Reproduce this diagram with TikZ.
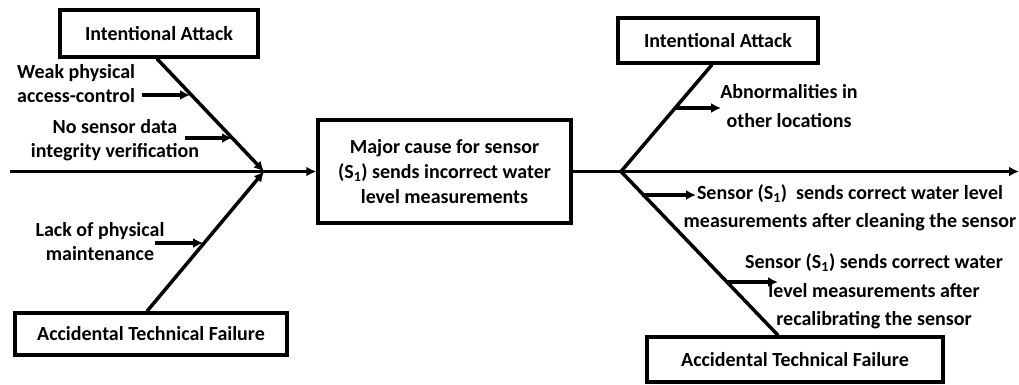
\documentclass[tikz,border=0pt]{standalone}
\usepackage{fontspec}
\setmainfont{Carlito}
\usetikzlibrary{arrows.meta}
\begin{document}
\begin{tikzpicture}[x=1pt,y=-1pt,
  txt/.style={font=\bfseries\fontsize{20}{24}\selectfont, inner sep=0pt, align=center},
  rtxt/.style={font=\bfseries\fontsize{20}{28.5}\selectfont, inner sep=0pt, align=center},
  box/.style={draw, line width=3.5pt, inner sep=0pt, align=center, font=\bfseries\fontsize{20}{25}\selectfont},
  bone/.style={line width=3.5pt},
  arr/.style={line width=3.5pt, -{Latex[length=10pt,width=10pt]}}]
\useasboundingbox (0,0) rectangle (1019,384);

% boxes
\node[box, minimum width=198pt, minimum height=47pt] (ia1) at (159,33.5) {Intentional Attack};
\node[box, minimum width=272pt, minimum height=42pt] (atf1) at (151,334) {Accidental Technical Failure};
\node[box, minimum width=253pt, minimum height=103pt] (main) at (444.5,171.5)
  {Major cause for sensor\\(S\textsubscript{1}) sends incorrect water\\level measurements};
\node[box, minimum width=200pt, minimum height=45pt] (ia2) at (718,40.5) {Intentional Attack};
\node[box, minimum width=296pt, minimum height=45pt] (atf2) at (795,359.5) {Accidental Technical Failure};

% spine coordinates
\coordinate (sL) at (10,171.5);
\coordinate (J1) at (264,171.5);
\coordinate (F) at (621,171.5);
\coordinate (sR) at (1019,171.5);

% spine
\draw[arr] (sL) -- (main.west);
\draw[bone] (main.east) -- (F);
\draw[arr] (F) -- (sR);

% left bones
\draw[arr] ([xshift=-2pt]ia1.south) -- (J1);
\draw[arr] ([xshift=-4pt]atf1.north) -- (J1);

% right bones
\draw[bone] ([xshift=-6pt]ia2.south) -- (F);
\draw[bone] (F) -- ([xshift=-17pt]atf2.north);

% left labels and sub arrows
\node[txt, align=left, anchor=west] (wpac) at (17,84) {Weak physical\\access-control};
\coordinate (wpacT) at (142,95);
\coordinate (wpacH) at (190,95);
\draw[arr] (wpacT) -- (wpacH);

\node[txt] (nsd) at (115,140) {No sensor data\\integrity verification};
\coordinate (nsdT) at (185,138);
\coordinate (nsdH) at (232,138);
\draw[arr] (nsdT) -- (nsdH);

\node[txt] (lpm) at (100,241.5) {Lack of physical\\maintenance};
\coordinate (lpmT) at (155,243);
\coordinate (lpmH) at (203,243);
\draw[arr] (lpmT) -- (lpmH);

% right labels and sub arrows
\node[rtxt] (abn) at (789,106) {Abnormalities in\\other locations};
\coordinate (abnT) at (675,108);
\coordinate (abnH) at (721,108);
\draw[arr] (abnT) -- (abnH);

\node[rtxt] (sc1) at (850,208) {Sensor (S\textsubscript{1})~ sends correct water level\\measurements after cleaning the sensor};
\coordinate (sc1T) at (642,195);
\coordinate (sc1H) at (696,195);
\draw[arr] (sc1T) -- (sc1H);

\node[rtxt] (sc2) at (874,291.5) {Sensor (S\textsubscript{1}) sends correct water\\level measurements after\\recalibrating the sensor};
\coordinate (sc2T) at (727,282);
\coordinate (sc2H) at (778,282);
\draw[arr] (sc2T) -- (sc2H);
\end{tikzpicture}
\end{document}
